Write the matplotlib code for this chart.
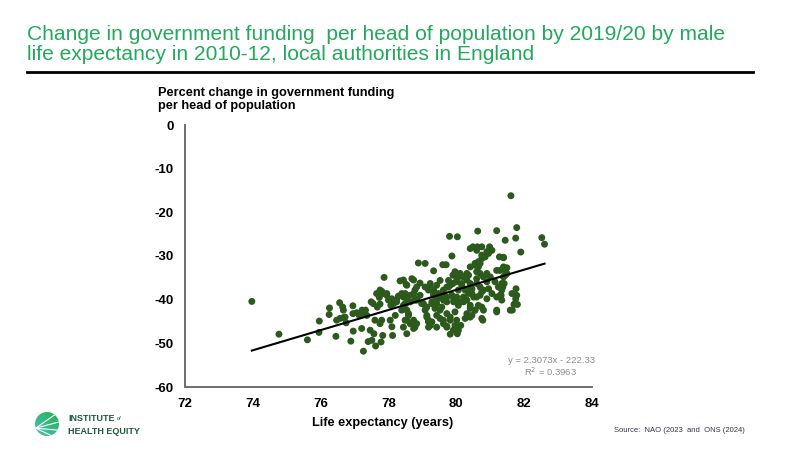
import matplotlib.pyplot as plt
import numpy as np
from matplotlib.lines import Line2D
from matplotlib.patches import Circle
from matplotlib.colors import LinearSegmentedColormap

plt.rcParams['font.family'] = ['Liberation Sans', 'DejaVu Sans']

title_lines = ['Change in government funding  per head of population by 2019/20 by male',
               'life expectancy in 2010-12, local authorities in England']
ylabel_lines = ['Percent change in government funding', 'per head of population']
xlabel_text = 'Life expectancy (years)'
source_text = 'Source:  NAO (2023  and  ONS (2024)'

x_ticks = [72, 74, 76, 78, 80, 82, 84]
y_ticks = [0, -10, -20, -30, -40, -50, -60]

# male life expectancy 2010-12 (years)
life_exp = [
    73.97, 74.77, 75.61, 75.95, 75.96, 76.25, 76.26, 76.45,
    76.56, 76.47, 76.57, 76.67, 76.65, 76.75, 76.95, 76.89,
    76.96, 76.95, 77.06, 77.14, 77.22, 77.26, 77.21, 77.32,
    77.36, 77.46, 77.51, 77.49, 77.55, 77.60, 77.57, 77.67,
    77.75, 77.75, 77.80, 77.83, 77.78, 77.73, 77.87, 77.80,
    77.95, 78.00, 78.07, 78.15, 78.05, 78.10, 78.20, 78.24,
    78.29, 78.34, 78.39, 78.52, 78.46, 78.54, 78.59, 78.51,
    78.12, 77.26, 77.62, 77.40, 76.67, 76.72,
    78.54, 78.69, 78.88, 79.08, 79.33, 79.60, 79.70, 79.87,
    80.49, 80.62, 80.98, 81.05, 80.95, 80.85, 80.75, 80.70,
    80.65, 80.60, 80.55, 81.27, 81.19, 81.39, 81.49, 80.41,
    80.31, 80.26, 80.11, 80.06, 79.96, 79.90, 80.16, 80.01,
    79.90, 79.77, 79.82, 79.72, 79.52, 79.42, 79.23, 79.18,
    79.08, 78.93, 78.83, 78.78, 80.60, 80.70, 80.80, 80.90,
    81.00, 81.14, 81.24, 81.34, 80.46, 80.36, 80.26, 79.62,
    79.87, 80.06, 79.33, 79.42, 78.93, 78.64, 78.49,
    78.44, 78.54, 78.59, 78.74, 78.78, 78.49, 78.64, 79.08,
    79.13, 79.18, 79.23, 79.03, 79.28, 79.37, 79.42, 79.52,
    79.62, 79.72, 79.82, 79.96, 80.01, 79.91, 79.82, 80.00,
    80.03, 80.13, 80.31, 80.41, 80.46, 80.55, 80.65, 80.75,
    80.78, 81.19, 81.29, 81.34, 81.19, 80.11, 80.21, 80.31,
    80.01, 79.92, 79.72, 79.62, 79.52, 79.42, 79.33, 78.83,
    78.74, 80.51, 80.70, 80.90, 81.05,
    81.61, 81.78, 81.75, 81.44, 82.52, 82.60, 81.90, 81.39,
    81.49, 81.44, 81.29, 81.39, 81.41, 81.37, 81.34, 81.32,
    81.76, 81.64, 81.75, 81.80, 81.70, 81.65,
    81.19, 80.63, 79.80, 80.03, 80.41, 80.60, 80.75, 80.90,
    80.75, 80.65, 80.55, 81.39, 78.44, 78.74, 80.21, 80.36,
    80.31, 80.41, 80.60, 80.70, 80.80, 80.90, 81.44, 79.23,
    79.33, 79.47, 79.62, 79.77, 79.87, 80.01, 80.16, 80.31,
    80.46, 80.60, 80.75, 80.95, 77.65, 77.80, 77.95, 78.10,
    78.24, 78.39, 78.54, 78.64, 78.83, 78.98, 79.13, 79.28,
    79.42, 79.57, 79.72, 79.92, 80.06, 80.21, 80.41, 80.55,
    79.13, 79.28, 79.42, 79.72, 79.82, 79.96, 80.06, 80.26,
    80.41, 80.75, 80.80, 81.19, 81.59, 81.73, 81.78, 77.75,
    77.85, 78.44, 78.49, 78.78, 78.44, 78.54, 78.74, 78.83,
    79.10, 79.18, 79.18, 79.52, 79.62, 79.72,
]

# percent change in funding per head by 2019/20
funding_change = [
    -40.4, -47.9, -49.2, -47.5, -44.9, -43.4, -41.9, -48.4,
    -40.7, -44.7, -44.3, -44.1, -41.7, -45.3, -41.4, -49.5,
    -47.2, -43.2, -43.0, -43.6, -42.4, -43.2, -46.6, -42.4,
    -43.6, -47.0, -49.3, -40.5, -40.9, -44.7, -47.8, -41.7,
    -41.0, -45.5, -44.7, -48.2, -49.7, -39.5, -34.9, -38.1,
    -38.6, -40.1, -41.3, -40.9, -44.7, -46.2, -43.6, -40.1,
    -39.2, -35.7, -42.4, -36.5, -39.0, -44.7, -43.2, -40.9,
    -48.2, -51.8, -50.6, -49.6, -42.4, -44.0,
    -36.7, -35.2, -31.6, -31.7, -33.4, -32.0, -32.0, -30.0,
    -27.9, -27.9, -27.9, -28.7, -29.4, -30.2, -29.8, -31.7,
    -32.5, -33.6, -32.1, -30.2, -33.3, -32.5, -34.0, -32.5,
    -34.0, -34.8, -34.0, -34.8, -33.6, -34.4, -36.3, -35.9,
    -36.3, -35.6, -36.7, -37.1, -35.6, -36.7, -36.3, -37.8,
    -37.1, -36.2, -37.1, -37.8, -36.3, -37.1, -37.8, -35.9,
    -34.8, -35.9, -37.1, -36.3, -37.5, -38.6, -37.8, -38.6,
    -39.0, -37.8, -38.6, -39.4, -39.0, -39.0, -38.6,
    -41.3, -42.4, -43.6, -44.7, -46.3, -44.7, -45.5, -42.4,
    -43.6, -45.1, -45.9, -40.9, -40.9, -42.0, -43.6, -44.3,
    -45.5, -46.1, -44.0, -42.8, -44.7, -47.0, -47.9, -47.2,
    -47.8, -45.9, -43.2, -42.0, -43.6, -42.4, -41.3, -41.7,
    -44.7, -42.8, -39.0, -40.1, -39.4, -40.5, -39.4, -40.1,
    -39.4, -40.5, -39.4, -40.1, -39.4, -40.1, -39.0, -39.8,
    -38.6, -39.4, -39.0, -39.8, -38.6,
    -16.2, -23.5, -25.9, -26.4, -25.8, -27.3, -29.1, -30.3,
    -32.7, -33.3, -33.3, -34.8, -36.3, -37.1, -37.8, -39.0,
    -37.5, -38.6, -39.8, -41.1, -41.1, -42.4,
    -24.2, -24.3, -25.5, -25.6, -28.3, -28.7, -27.9, -29.0,
    -30.6, -31.3, -31.7, -30.4, -35.5, -35.5, -34.8, -34.4,
    -35.5, -36.3, -35.2, -34.0, -34.8, -34.0, -34.4, -37.1,
    -37.8, -38.6, -37.8, -37.1, -36.3, -35.6, -36.7, -37.8,
    -38.6, -39.4, -38.2, -37.5, -38.6, -38.2, -39.0, -39.8,
    -40.5, -38.6, -39.4, -40.5, -40.1, -40.9, -41.7, -40.5,
    -40.9, -41.7, -40.5, -39.8, -41.3, -40.5, -41.3, -42.4,
    -44.0, -45.1, -46.3, -43.2, -44.7, -45.9, -47.0, -44.3,
    -44.0, -44.3, -42.4, -42.4, -42.4, -40.9, -39.0, -37.8,
    -38.6, -39.4, -40.9, -40.1, -46.3, -47.8, -46.6, -45.5,
    -41.7, -44.7, -46.3, -42.4, -44.7, -46.3,
]

# excel trendline shown on the chart
trend_slope = 2.3073
trend_intercept = -222.33
trend_label = 'y = 2.3073x - 222.33'
r2_label = 'R$^2$ = 0.3963'

green_title = '#22aa5c'
dot_color = '#2b5a1c'
logo_green = '#1c5b3b'

fig = plt.figure(figsize=(8, 4.5), dpi=100)

# title and rule
fig.text(27 / 800, 1 - 39.5 / 450, title_lines[0], fontsize=15.1, color=green_title, va='baseline')
fig.text(27 / 800, 1 - 59.5 / 450, title_lines[1], fontsize=15.1, color=green_title, va='baseline')
fig.add_artist(Line2D([27 / 800, 753 / 800], [1 - 72 / 450, 1 - 72 / 450], color='black', lw=2))

ax = fig.add_axes([185 / 800, 1 - 387 / 450, 407 / 800, 262 / 450])
ax.scatter(life_exp, funding_change, s=25, color=dot_color, edgecolors='none', zorder=2)

xs = np.array([min(life_exp), max(life_exp)])
ax.plot(xs, trend_slope * xs + trend_intercept, color='black', lw=1.5, zorder=3)

ax.set_xlim(72, 84)
ax.set_ylim(-60, 0)
ax.set_xticks(x_ticks)
ax.set_yticks(y_ticks)
ax.set_xticklabels([str(t) for t in x_ticks], fontweight='bold', fontsize=9.5)
ax.set_yticklabels([str(t) for t in y_ticks], fontweight='bold', fontsize=9.5)
ax.tick_params(length=0, pad=8)
for side in ['top', 'right']:
    ax.spines[side].set_visible(False)
for side in ['left', 'bottom']:
    ax.spines[side].set_color('#6e6e6e')
    ax.spines[side].set_linewidth(1.4)

fig.text(595 / 800, 1 - 363 / 450, trend_label, ha='right', va='baseline', fontsize=6.8, color='#8c8c8c')
fig.text(577 / 800, 1 - 376 / 450, r2_label, ha='right', va='baseline', fontsize=6.8, color='#8c8c8c')

fig.text(158 / 800, 1 - 96 / 450, ylabel_lines[0], fontsize=9.2, fontweight='bold', va='baseline')
fig.text(158 / 800, 1 - 109 / 450, ylabel_lines[1], fontsize=9.2, fontweight='bold', va='baseline')
fig.text(383 / 800, 1 - 423 / 450, xlabel_text, fontsize=9.2, fontweight='bold', ha='center', va='center')

fig.text(614 / 800, 1 - 432 / 450, source_text, fontsize=5.5, color='#33334d', va='baseline')

# logo
lax = fig.add_axes([35 / 800, 1 - 436 / 450, 24 / 800, 24 / 450])
lax.set_xlim(-1, 1)
lax.set_ylim(-1, 1)
lax.set_aspect('equal')
lax.axis('off')
gx, gy = np.meshgrid(np.linspace(0, 1, 50), np.linspace(0, 1, 50))
grad = (gx + (1 - gy)) / 2
img = lax.imshow(grad, extent=[-1, 1, -1, 1], origin='upper',
                 cmap=LinearSegmentedColormap.from_list('ihe', ['#45c3b8', '#27b14a']))
circ = Circle((0, 0), 1, transform=lax.transData)
img.set_clip_path(circ)
for ang in [-25, -5, 15, 35]:
    a = np.radians(ang)
    lax.plot([-0.95, -0.95 + 2.2 * np.cos(a)], [-0.35, -0.35 + 2.2 * np.sin(a)],
             color='white', lw=0.8, clip_path=circ)

fig.text(68 / 800, 1 - 421 / 450, 'INSTITUTE', fontsize=6.5, fontweight='bold', color=logo_green, va='baseline')
fig.text(117 / 800, 1 - 420 / 450, 'of', fontsize=4, style='italic', color=logo_green, va='baseline')
fig.text(68 / 800, 1 - 434 / 450, 'HEALTH EQUITY', fontsize=6.5, fontweight='bold', color=logo_green, va='baseline')

fig.savefig('out.png', dpi=100)
